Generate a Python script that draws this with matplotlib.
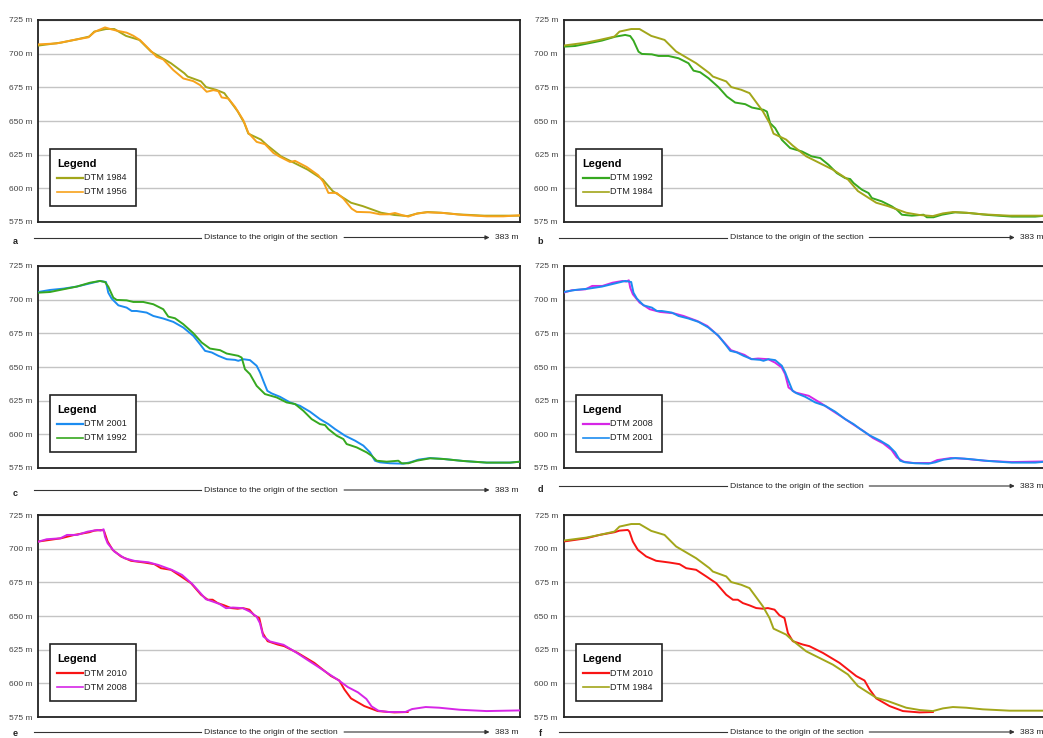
import matplotlib.pyplot as plt
from matplotlib.patches import Rectangle, FancyArrowPatch
from matplotlib.lines import Line2D

plt.rcParams['font.family'] = ['Liberation Sans', 'DejaVu Sans']

# Elevation profiles along the section: distance (m) and elevation (m a.s.l.)
dtm1956_x = [0, 14.6, 27.8, 39.7, 45, 53, 58.3, 62.3, 70.2, 75.5, 80.8, 86.1, 94, 99.3,
             107.3, 115.2, 123.2, 128.5, 133.8, 139.1, 143, 145.7, 151, 156.3, 162.9,
             166.9, 173.5, 180.1, 186.8, 192, 200, 204, 213.2, 222.5, 226.5, 230.5,
             237.1, 242.4, 249, 253, 263.6, 271.5, 278.1, 283.4, 288.7, 294, 300.6,
             308.6, 321.8, 337.7, 356.3, 369.5, 383]
dtm1956_z = [706.9, 707.6, 710.1, 712.1, 716.3, 719.5, 718, 717.1, 715.6, 713.3, 710.1,
             705.2, 697.7, 695.7, 687.8, 681.6, 679.6, 676.7, 671.7, 672.9, 672.2, 667.5,
             666.7, 660.5, 650.6, 641.2, 634.5, 632.8, 626.3, 623.4, 619.6, 620.4, 615.9,
             609.7, 604.8, 596.6, 596.6, 592.4, 584.9, 582.5, 582.2, 580.7, 580.7, 581.7,
             580.2, 579, 581.2, 582.2, 581.7, 580.2, 579.2, 579.2, 580]

dtm1984_x = [0, 18, 28.6, 40.5, 44.5, 53.8, 60.4, 69.7, 80.3, 89.5, 105.4, 116, 118.7,
             129.3, 133.3, 141.2, 147.8, 158.4, 163.7, 166.9, 176.9, 182.2, 192.8, 214,
             226, 233.9, 248.5, 257.8, 272.3, 282.9, 293.5, 301.5, 309.4, 320, 333.2,
             354.4, 383]
dtm1984_z = [706, 708.2, 710.2, 712.7, 716.4, 718.3, 718.3, 713.2, 710.2, 701.6, 692.9,
             685.5, 683, 679.4, 675.2, 673.2, 670.7, 657.2, 648.5, 640.6, 636.2, 631.7,
             623.8, 613.9, 606.6, 598, 589.3, 586.8, 581.9, 580.2, 579.4, 581.4, 582.4,
             581.9, 580.7, 579.7, 579.7]

dtm1992_x = [0, 9.3, 19.9, 30.5, 41.1, 49, 53, 55.6, 59.6, 62.3, 70.2, 75.5, 83.4, 91.4,
             99.3, 103.3, 108.6, 115.2, 123.2, 129.8, 136.4, 144.4, 149.7, 158.9, 161.6,
             164.2, 168.2, 173.5, 180.1, 189.4, 197.3, 204, 210.6, 217.2, 223.8, 227.8,
             230.5, 237.1, 242.4, 245, 253, 260.9, 264.9, 268.9, 276.8, 286.1, 288.7,
             294, 300.6, 311.3, 321.9, 337.7, 356.3, 374.8, 383]
dtm1992_z = [705.2, 705.7, 707.7, 709.7, 712.6, 713.9, 713.1, 709.7, 701.5, 699.8, 699.5,
             698.3, 698.3, 696.6, 692.9, 687.4, 686.2, 681.8, 675.1, 668.2, 663.7, 662.5,
             660, 658.3, 657, 648.4, 644.7, 636, 629.9, 627.4, 623.7, 622.5, 617.5,
             611.3, 607.6, 606.9, 603.9, 599, 596.5, 592.8, 590.3, 586.6, 584.1, 580.4,
             579.7, 580.4, 578.5, 578.5, 580.4, 582.2, 581.7, 580.2, 579, 579, 579.7]

dtm2001_x = [0, 9.3, 19.9, 30.5, 41.1, 49, 53.8, 55.6, 58.3, 63.6, 70.2, 74.2, 78.1, 86.1,
             91.4, 99.3, 107.3, 115.2, 123.2, 128.5, 132.5, 137.8, 143.1, 149.7, 156.3,
             158.9, 162.9, 168.2, 173.5, 176.2, 178.8, 182, 185.4, 192, 200, 207.9,
             215.9, 223.8, 230.5, 235.8, 243.7, 251.7, 258.3, 263.6, 267.5, 271.5,
             279.5, 290.1, 295.4, 302, 311.3, 321.9, 337.7, 356.3, 374.8, 383]
dtm2001_z = [705.7, 707.2, 708.2, 709.7, 712.1, 713.9, 713.1, 705.2, 700.8, 695.8, 694.1,
             691.6, 691.6, 690.4, 687.9, 686, 683.5, 679.3, 673.1, 666.9, 662, 660.8,
             658.3, 655.8, 655.3, 654.6, 655.8, 655.1, 650.9, 645.9, 639.7, 632.3, 630.4,
             627.9, 623.7, 621.2, 616.8, 611.3, 607.6, 603.9, 599, 595.3, 591.6, 586.6,
             580.4, 579.2, 578.5, 578.2, 579.2, 581.2, 582.4, 581.7, 580.2, 579, 579,
             579.7]

dtm2008_x = [0, 6.7, 17.5, 22.8, 30.9, 39, 47, 49.7, 51.9, 53, 55.1, 60.5, 68.5, 76.6,
             87.4, 95.4, 106.2, 114.2, 122.3, 127.7, 133.1, 138.4, 143.8, 149.2, 154.6,
             162.6, 168, 173.4, 176.1, 178.8, 184.1, 194.9, 205.6, 213.7, 221.8, 229.8,
             237.9, 246, 254, 260.7, 264.8, 270.2, 278.2, 291.7, 297, 307.8, 318.5,
             334.7, 356.2, 383]
dtm2008_z = [705.2, 707, 707.7, 710.2, 710.2, 712.6, 713.9, 713.4, 714.4, 708.9, 704,
             697.8, 692.9, 690.9, 689.9, 687.9, 684.2, 680.5, 673.8, 668.2, 662.5, 660.8,
             659, 655.8, 656.3, 655.8, 653.3, 649.6, 644.7, 634.8, 631.1, 628.6, 622.5,
             617.5, 612.6, 607.6, 602.7, 597.2, 593.3, 588.4, 582.9, 579.7, 578.7, 578.7,
             580.9, 582.4, 581.9, 580.4, 579.4, 579.9]

dtm2010_x = [0, 18, 28.6, 40.5, 44.5, 51.1, 52.4, 55.1, 59.1, 65.7, 73.6, 84.2, 92.2,
             97.5, 105.4, 113.4, 121.3, 129.3, 134.6, 138.5, 142.5, 147.8, 153.1, 158.4,
             162.4, 167.7, 171.6, 175.6, 178.3, 182.2, 190.2, 195.4, 206.1, 219.3, 232.6,
             239.2, 243.2, 248.5, 259.1, 269.7, 282.9, 293.5]
dtm2010_z = [705.3, 707.7, 710.2, 712.2, 713.4, 713.9, 712.7, 705.3, 699.1, 694.2, 691,
             689.7, 688.5, 685.5, 684.3, 679.4, 674.4, 665.8, 662.1, 662.1, 659.6, 657.9,
             655.9, 655.4, 655.9, 654.7, 650.5, 648.5, 637.4, 631.3, 628.8, 627.6, 622.6,
             615.2, 605.4, 602.1, 595.5, 588.8, 583.1, 579.4, 578.4, 578.7]

profiles = {
    '1956': (dtm1956_x, dtm1956_z, '#f7a21b'),
    '1984': (dtm1984_x, dtm1984_z, '#a2a61a'),
    '1992': (dtm1992_x, dtm1992_z, '#36a81f'),
    '2001': (dtm2001_x, dtm2001_z, '#1c8cf0'),
    '2008': (dtm2008_x, dtm2008_z, '#d626e6'),
    '2010': (dtm2010_x, dtm2010_z, '#f81414'),
}

# panel letter, axes left / top (px), compared DTMs, y of distance arrow (px)
panels = [
    ('a', 38.3, 20, ('1984', '1956'), 237.5),
    ('b', 563.5, 20, ('1992', '1984'), 237.5),
    ('c', 38.3, 266, ('2001', '1992'), 490),
    ('d', 563.5, 266, ('2008', '2001'), 486),
    ('e', 38.3, 515, ('2010', '2008'), 732),
    ('f', 563.5, 515, ('2010', '1984'), 732),
]
elev_ticks = [575, 600, 625, 650, 675, 700, 725]
section_length = 383

W, H = 1043, 738
AW, AH = 482, 202
fig = plt.figure(figsize=(W / 100, H / 100), dpi=100)


def fx(px):
    return px / W


def fy(py):
    return 1 - py / H


def draw_legend(ax, years):
    # boxed legend in the lower-left corner, sized in pixels
    bx, by, bw, bh = 12, 16, 86, 57
    ax.add_patch(Rectangle((bx / AW, by / AH), bw / AW, bh / AH, transform=ax.transAxes,
                           facecolor='white', edgecolor='#222222', lw=1.2, zorder=5))
    ax.text((bx + 7) / AW, (by + bh - 15) / AH, 'Legend', transform=ax.transAxes,
            fontsize=7.9, fontweight='bold', va='center', ha='left', zorder=6)
    for i, year in enumerate(years):
        yy = (by + bh - 29 - 14 * i) / AH
        ax.plot([(bx + 7) / AW, (bx + 33) / AW], [yy, yy], transform=ax.transAxes,
                color=profiles[year][2], lw=1.6 if i == 0 else 1.2, zorder=6,
                clip_on=False)
        ax.text((bx + 34) / AW, yy, f'DTM {year}', transform=ax.transAxes,
                fontsize=6.6, va='center', ha='left', color='#222222', zorder=6)


for letter, left, top, years, dist_y in panels:
    ax = fig.add_axes([fx(left), fy(top + AH), AW / W, AH / H])
    for year in years:
        x, z, col = profiles[year]
        ax.plot(x, z, color=col, lw=1.4, zorder=3, solid_joinstyle='round')
    ax.set_xlim(0, section_length)
    ax.set_ylim(575, 725)
    ax.set_xticks([])
    ax.set_yticks(elev_ticks)
    ax.set_yticklabels([f'{v} m' for v in elev_ticks])
    ax.tick_params(axis='y', length=0, pad=4, labelsize=6, labelcolor='#444444')
    ax.grid(axis='y', color='#c4c4c4', lw=1)
    ax.set_axisbelow(True)
    for sp in ax.spines.values():
        sp.set_color('#222222')
        sp.set_linewidth(1.3)
    draw_legend(ax, years)

    # distance axis drawn under each panel
    cx = left + 233
    fig.add_artist(Line2D([fx(left - 4.5), fx(cx - 70)], [fy(dist_y), fy(dist_y)],
                          transform=fig.transFigure, color='#333333', lw=0.8))
    fig.text(fx(cx), fy(dist_y), 'Distance to the origin of the section',
             fontsize=6.1, ha='center', va='center', color='#222222')
    fig.add_artist(FancyArrowPatch((fx(cx + 70), fy(dist_y)), (fx(left + 454), fy(dist_y)),
                                   transform=fig.transFigure, arrowstyle='-|>',
                                   mutation_scale=6, lw=0.8, color='#333333'))
    fig.text(fx(left + 457), fy(dist_y), f'{section_length} m', fontsize=6.1,
             ha='left', va='center', color='#222222')
    letter_y = min(dist_y + 4, 733)
    fig.text(fx(left - 23), fy(letter_y), letter, fontsize=6.5, fontweight='bold',
             ha='center', va='center', color='#222222')

fig.savefig('out.png', dpi=100)
